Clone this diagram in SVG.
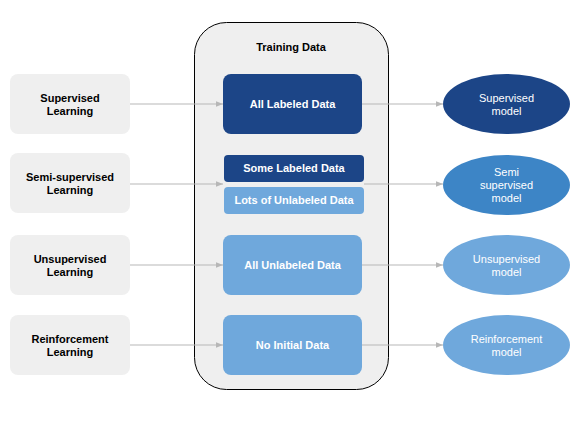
<svg xmlns="http://www.w3.org/2000/svg" width="588" height="422" viewBox="0 0 588 422">
<style>
.src{fill:#efefef}
.lbl{font-family:"Liberation Sans",Arial,sans-serif;font-size:11px;font-weight:bold;fill:#000;text-anchor:middle}
.wb{font-family:"Liberation Sans",Arial,sans-serif;font-size:11px;font-weight:bold;fill:#fff;text-anchor:middle}
.wn{font-family:"Liberation Sans",Arial,sans-serif;font-size:11px;fill:#fff;text-anchor:middle}
.dark{fill:#1c4587}
.mid{fill:#3d85c6}
.light{fill:#6fa8dc}
.conn line{stroke:#b7b7b7;stroke-width:1;marker-end:url(#ah)}
</style>
<defs>
<marker id="ah" viewBox="0 0 10 10" refX="10" refY="5" markerWidth="7" markerHeight="7" markerUnits="userSpaceOnUse" orient="auto">
<path d="M0,1 L10,5 L0,9 z" fill="#b7b7b7"/>
</marker>
</defs>
<rect width="588" height="422" fill="#fff"/>
<g id="container">
<rect x="194.5" y="22.5" width="194" height="367" rx="32" ry="32" fill="#efefef" stroke="#000" stroke-width="1"/>
<text class="lbl" x="291" y="51">Training Data</text>
</g>
<g id="supervised-learning">
<rect class="src" x="10" y="74" width="120" height="60" rx="8"/>
<text class="lbl" x="70" y="102">Supervised</text>
<text class="lbl" x="70" y="115">Learning</text>
</g>
<g id="semi-supervised-learning">
<rect class="src" x="10" y="153" width="120" height="60" rx="8"/>
<text class="lbl" x="70" y="181">Semi-supervised</text>
<text class="lbl" x="70" y="194">Learning</text>
</g>
<g id="unsupervised-learning">
<rect class="src" x="10" y="235" width="120" height="60" rx="8"/>
<text class="lbl" x="70" y="263">Unsupervised</text>
<text class="lbl" x="70" y="276">Learning</text>
</g>
<g id="reinforcement-learning">
<rect class="src" x="10" y="315" width="120" height="60" rx="8"/>
<text class="lbl" x="70" y="343">Reinforcement</text>
<text class="lbl" x="70" y="356">Learning</text>
</g>
<g id="all-labeled">
<rect class="dark" x="223" y="74" width="139" height="60" rx="8"/>
<text class="wb" x="292.5" y="108">All Labeled Data</text>
</g>
<g id="some-labeled">
<rect class="dark" x="224" y="155" width="140" height="27" rx="4"/>
<text class="wb" x="294" y="172">Some Labeled Data</text>
</g>
<g id="lots-unlabeled">
<rect class="light" x="224" y="187" width="140" height="27" rx="4"/>
<text class="wb" x="294" y="204">Lots of Unlabeled Data</text>
</g>
<g id="all-unlabeled">
<rect class="light" x="223" y="235" width="139" height="60" rx="8"/>
<text class="wb" x="292.5" y="269">All Unlabeled Data</text>
</g>
<g id="no-initial">
<rect class="light" x="223" y="315" width="139" height="60" rx="8"/>
<text class="wb" x="292.5" y="349">No Initial Data</text>
</g>
<g id="supervised-model">
<ellipse class="dark" cx="506.5" cy="104" rx="63.5" ry="30"/>
<text class="wn" x="506.5" y="102">Supervised</text>
<text class="wn" x="506.5" y="115">model</text>
</g>
<g id="semi-model">
<ellipse class="mid" cx="506.5" cy="185" rx="63.5" ry="30"/>
<text class="wn" x="506.5" y="176">Semi</text>
<text class="wn" x="506.5" y="189">supervised</text>
<text class="wn" x="506.5" y="202">model</text>
</g>
<g id="unsupervised-model">
<ellipse class="light" cx="506.5" cy="265" rx="63.5" ry="30"/>
<text class="wn" x="506.5" y="263">Unsupervised</text>
<text class="wn" x="506.5" y="276">model</text>
</g>
<g id="reinforcement-model">
<ellipse class="light" cx="506.5" cy="345" rx="63.5" ry="30"/>
<text class="wn" x="506.5" y="343">Reinforcement</text>
<text class="wn" x="506.5" y="356">model</text>
</g>
<g class="conn" id="connectors">
<line x1="130" y1="104" x2="223" y2="104"/>
<line x1="130" y1="184" x2="223" y2="184"/>
<line x1="130" y1="265" x2="223" y2="265"/>
<line x1="130" y1="345" x2="223" y2="345"/>
<line x1="362" y1="104" x2="443" y2="104"/>
<line x1="364" y1="184" x2="443" y2="184"/>
<line x1="362" y1="265" x2="443" y2="265"/>
<line x1="362" y1="345" x2="443" y2="345"/>
</g>
</svg>
